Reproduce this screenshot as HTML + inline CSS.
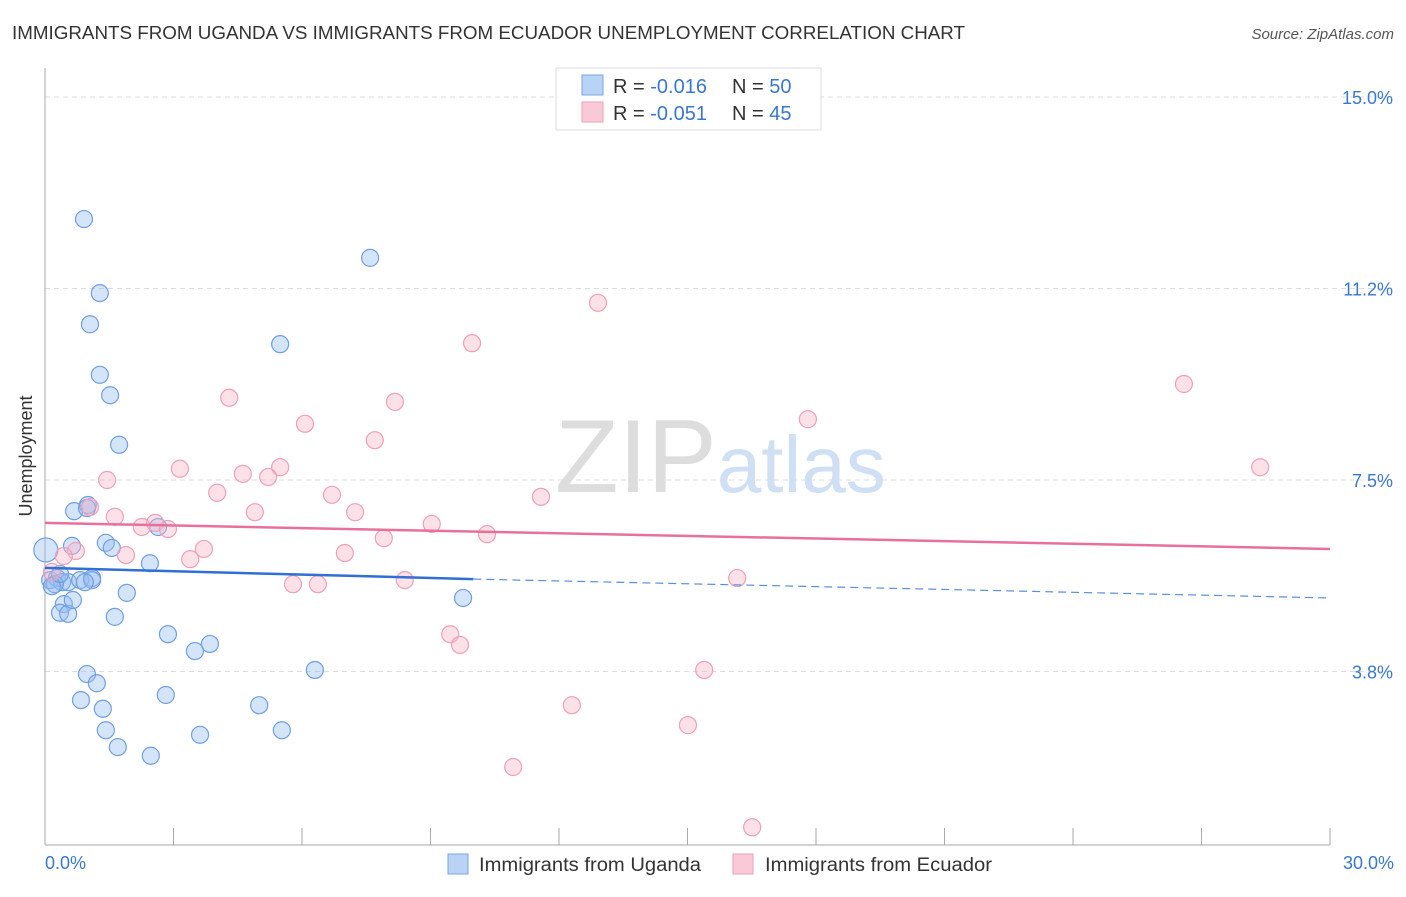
<!DOCTYPE html>
<html><head><meta charset="utf-8"><style>
body{margin:0;background:#fff;font-family:"Liberation Sans",sans-serif;}
svg text{font-family:"Liberation Sans",sans-serif;}
</style></head><body>
<svg width="1406" height="892" xmlns="http://www.w3.org/2000/svg">
<text x="12" y="39" font-size="18" fill="#333" textLength="953" lengthAdjust="spacingAndGlyphs">IMMIGRANTS FROM UGANDA VS IMMIGRANTS FROM ECUADOR UNEMPLOYMENT CORRELATION CHART</text>
<text x="1394" y="39" font-size="15" fill="#555" font-style="italic" text-anchor="end">Source: ZipAtlas.com</text>
<g id="grid"></g>
<line x1="45" y1="68" x2="45" y2="845" stroke="#aaa"/>
<line x1="45" y1="845" x2="1330" y2="845" stroke="#aaa"/>
<text x="32" y="456" font-size="18" fill="#333" text-anchor="middle" transform="rotate(-90 32 456)">Unemployment</text>
<text x="555" y="492" font-size="104" fill="#ddd" font-family="Liberation Serif">ZIP<tspan fill="#cfe0f5" font-family="Liberation Sans" font-size="80">atlas</tspan></text>
<g id="ticks"></g>
<g id="pts"></g>
<g id="trend"></g>
<text x="45" y="869" font-size="18" fill="#3a78d0">0.0%</text>
<text x="1394" y="869" font-size="18" fill="#3a78d0" text-anchor="end">30.0%</text>
<g>
<rect x="448" y="854" width="20" height="20" fill="#b8d3f5" stroke="#7aa6e0"/>
<text x="479" y="871" font-size="19" fill="#333" textLength="222" lengthAdjust="spacingAndGlyphs">Immigrants from Uganda</text>
<rect x="733" y="854" width="20" height="20" fill="#f9c9d7" stroke="#eea0b8"/>
<text x="765" y="871" font-size="19" fill="#333" textLength="227" lengthAdjust="spacingAndGlyphs">Immigrants from Ecuador</text>
</g>
<g>
<rect x="556" y="68" width="265" height="62" fill="#fff" stroke="#ddd"/>
<rect x="582" y="75" width="21" height="20" fill="#b8d3f5" stroke="#7aa6e0"/>
<rect x="582" y="102" width="21" height="20" fill="#f9c9d7" stroke="#eea0b8"/>
<text x="613" y="93" font-size="20" fill="#333">R = <tspan fill="#3a78d0">-0.016</tspan><tspan x="732">N = </tspan><tspan fill="#3a78d0">50</tspan></text>
<text x="613" y="120" font-size="20" fill="#333">R = <tspan fill="#3a78d0">-0.051</tspan><tspan x="732">N = </tspan><tspan fill="#3a78d0">45</tspan></text>
</g>
</svg>
<script>
const yTicks=[15.0,11.25,7.5,3.75];
const yTickLabels=["15.0%","11.2%","7.5%","3.8%"];
const xTicks=[0,3,6,9,12,15,18,21,24,27,30];
const ugandaX=[0.91,7.59,1.28,1.05,5.49,1.28,1.52,1.73,1.0,0.68,0.98,0.63,1.42,1.56,2.45,2.64,0.02,0.12,0.28,0.4,0.54,0.82,1.1,1.1,1.91,9.76,0.44,0.35,0.54,1.63,2.87,3.85,3.5,6.3,0.98,1.21,0.84,2.82,1.35,5.0,1.42,5.53,3.62,1.7,2.47,0.23,0.16,0.35,0.65,0.93];
const ugandaY=[12.61,11.85,11.16,10.55,10.16,9.56,9.16,8.19,7.01,6.89,6.95,6.21,6.27,6.17,5.87,6.58,6.13,5.54,5.58,5.5,5.5,5.54,5.58,5.54,5.29,5.19,5.07,4.9,4.88,4.82,4.48,4.29,4.15,3.78,3.7,3.52,3.19,3.29,3.02,3.09,2.6,2.6,2.51,2.27,2.1,5.46,5.42,5.66,5.15,5.5];
const ecuadorX=[12.91,9.97,26.59,4.3,8.17,6.07,17.81,7.7,3.15,28.37,4.62,5.49,5.21,1.45,4.02,6.7,11.58,4.9,7.24,1.63,1.05,9.03,2.57,2.26,2.87,10.32,7.91,3.71,7.0,1.89,0.72,3.39,0.44,8.4,5.79,6.37,16.16,9.46,9.69,15.39,12.3,15.01,10.93,16.51,0.16];
const ecuadorY=[10.97,10.18,9.38,9.11,9.03,8.6,8.69,8.28,7.72,7.75,7.62,7.75,7.56,7.5,7.25,7.21,7.17,6.87,6.87,6.78,6.97,6.64,6.66,6.58,6.54,6.44,6.36,6.15,6.07,6.03,6.11,5.95,6.01,5.54,5.46,5.46,5.58,4.48,4.27,3.78,3.09,2.7,1.88,0.7,5.7];
const ugTrendX=[0,10,30];const ugTrendY=[5.78,5.56,5.19];
const ecTrendX=[0,30];const ecTrendY=[6.66,6.15];
const NS="http://www.w3.org/2000/svg";
const sx=v=>45+v/30*1285, sy=v=>863-v*51.067;
function mk(t,a,p){const e=document.createElementNS(NS,t);for(const k in a)e.setAttribute(k,a[k]);p.appendChild(e);return e;}
const grid=document.getElementById('grid'),ticks=document.getElementById('ticks');
yTicks.forEach((v,i)=>{
 const l=mk('line',{x1:45,x2:1394,y1:sy(v),y2:sy(v),stroke:'#ddd','stroke-dasharray':'5,4'},grid);
 
 
 const t=mk('text',{x:1393,y:sy(v)+7,'font-size':18,fill:'#3a78d0','text-anchor':'end'},ticks);
 t.textContent=yTickLabels[i];
 
 
});
xTicks.forEach(v=>{
 const l=mk('line',{x1:sx(v),x2:sx(v),y1:828,y2:845,stroke:'#aaa'},ticks);
 
 
});
const pts=document.getElementById('pts');
ugandaX.forEach((v,i)=>{
 const c=mk('circle',{cx:sx(v),cy:sy(ugandaY[i]),r:i==16?12:8.5,fill:'rgba(150,190,240,0.4)',stroke:'#6f9fe0','stroke-width':1.2},pts);
 
 
});
ecuadorX.forEach((v,i)=>{
 const c=mk('circle',{cx:sx(v),cy:sy(ecuadorY[i]),r:8.5,fill:'rgba(248,180,200,0.4)',stroke:'#eea0b8','stroke-width':1.2},pts);
 
 
});
const tr=document.getElementById('trend');
let l=mk('line',{x1:sx(ecTrendX[0]),y1:sy(ecTrendY[0]),x2:sx(ecTrendX[1]),y2:sy(ecTrendY[1]),stroke:'#e8709a','stroke-width':2.5},tr);


l=mk('line',{x1:sx(ugTrendX[0]),y1:sy(ugTrendY[0]),x2:sx(ugTrendX[1]),y2:sy(ugTrendY[1]),stroke:'#2f6fd6','stroke-width':2.5},tr);


l=mk('line',{x1:sx(ugTrendX[1]),y1:sy(ugTrendY[1]),x2:sx(ugTrendX[2]),y2:sy(ugTrendY[2]),stroke:'#5a8fdc','stroke-width':1.2,'stroke-dasharray':'8,5'},tr);


</script>
</body></html>
